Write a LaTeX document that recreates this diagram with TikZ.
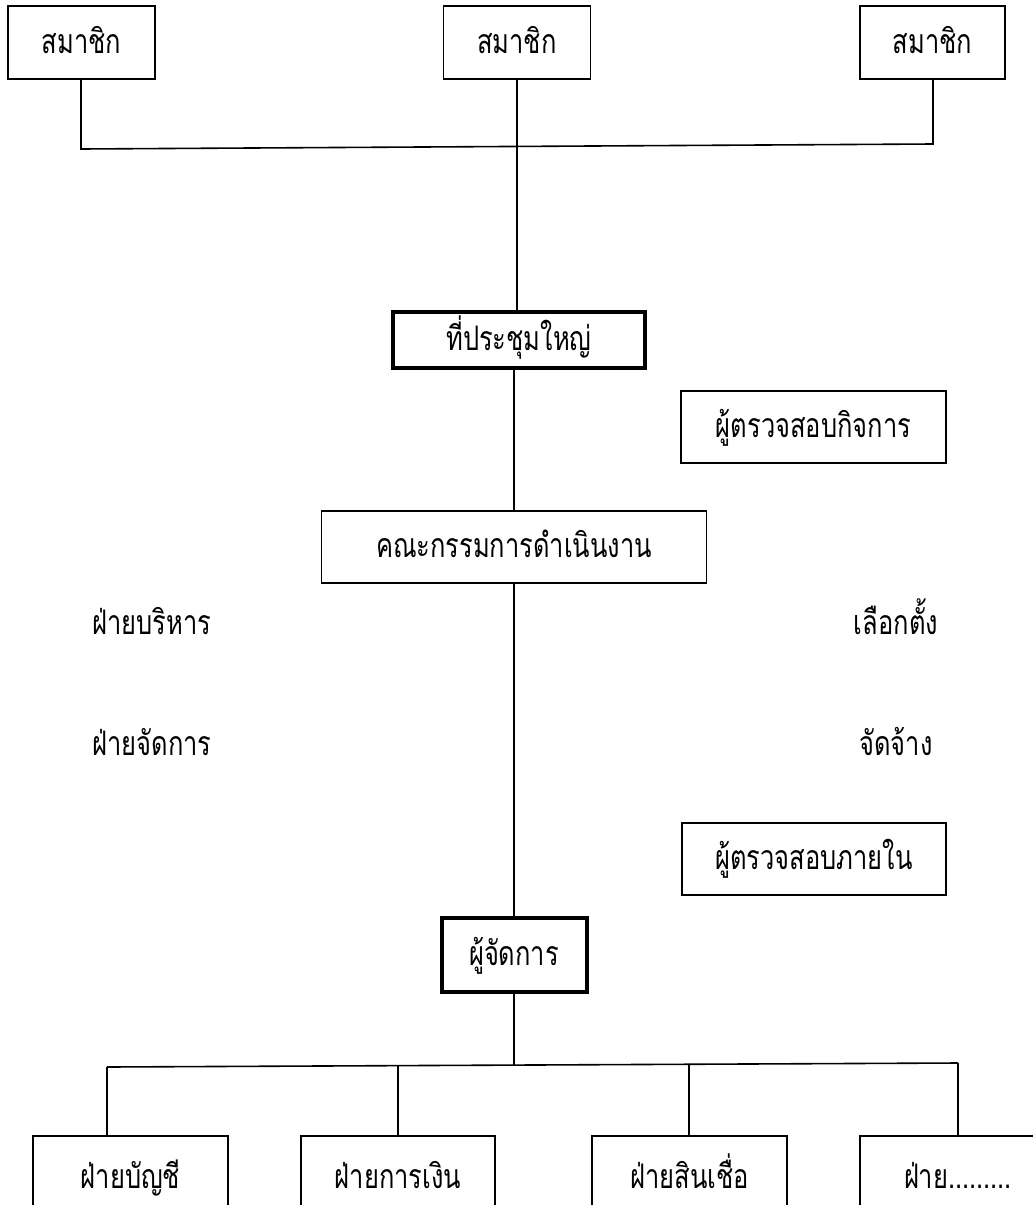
\documentclass[tikz,border=0pt]{standalone}
\usepackage{graphicx}
\usepackage{fontspec}
\newfontfamily\thaifont[Script=Thai]{Loma}
\newcommand{\thx}[1]{\scalebox{0.98}[1.3]{#1}}
\begin{document}
\begin{tikzpicture}[x=1pt,y=-1pt,
  txt/.style={font=\thaifont\fontsize{26}{30}\selectfont, inner sep=0pt, text height=23pt, text depth=2pt},
  box/.style={txt, draw, line width=1.6pt, rectangle},
  thickbox/.style={box, line width=4pt},
  conn/.style={line width=1.6pt}]
\useasboundingbox (0,0) rectangle (1033,1205);
\clip (0,0) rectangle (1033,1205);
% top members
\node[box, minimum width=147, minimum height=73] (m1) at (81.5,42.5) {\thx{สมาชิก}};
\node[box, minimum width=147, minimum height=73] (m2) at (517,42.5) {\thx{สมาชิก}};
\node[box, minimum width=145, minimum height=73] (m3) at (932.5,42.5) {\thx{สมาชิก}};
\node[thickbox, minimum width=252, minimum height=56] (ga) at (519,339.5) {\thx{ที่ประชุมใหญ่}};
\node[box, minimum width=265, minimum height=72] (au1) at (813.5,427) {\thx{ผู้ตรวจสอบกิจการ}};
\node[box, minimum width=385, minimum height=72] (com) at (514,547) {\thx{คณะกรรมการดำเนินงาน}};
\node[txt] (adm) at (152,624) {\thx{ฝ่ายบริหาร}};
\node[txt] (elect) at (896,624) {\thx{เลือกตั้ง}};
\node[txt] (mgt) at (152,745) {\thx{ฝ่ายจัดการ}};
\node[txt] (hire) at (896,745) {\thx{จัดจ้าง}};
\node[box, minimum width=264, minimum height=72] (au2) at (814,859) {\thx{ผู้ตรวจสอบภายใน}};
\node[thickbox, minimum width=145, minimum height=74] (mgr) at (514,955) {\thx{ผู้จัดการ}};
% departments
\node[box, anchor=north, minimum width=195, minimum height=84] (d1) at (130.5,1135) {\thx{ฝ่ายบัญชี}};
\node[box, anchor=north, minimum width=194, minimum height=84] (d2) at (398,1135) {\thx{ฝ่ายการเงิน}};
\node[box, anchor=north, minimum width=195, minimum height=84] (d3) at (689.5,1135) {\thx{ฝ่ายสินเชื่อ}};
\node[box, anchor=north, minimum width=196, minimum height=84] (d4) at (958,1135) {\thx{ฝ่าย.........}};
% top bus
\coordinate (tl) at (81,149);
\coordinate (tr) at (933,144);
\draw[conn] (m1.south -| tl) -- (tl) -- (tr) -- (m3.south -| tr);
\draw[conn] (m2.south) -- (m2.south |- ga.north);
\draw[conn] (com.north |- ga.south) -- (com.north);
\draw[conn] (com.south) -- (mgr.north);
% bottom bus
\coordinate (bm) at (514,1065);
\coordinate (b1) at (107,1067);
\coordinate (b2) at (398,1066);
\coordinate (b3) at (689,1064);
\coordinate (b4) at (958,1063);
\draw[conn] (mgr.south) -- (bm);
\draw[conn] (b1) -- (b4);
\draw[conn] (b1) -- (b1 |- d1.north);
\draw[conn] (b2) -- (d2.north);
\draw[conn] (b3) -- (b3 |- d3.north);
\draw[conn] (b4) -- (d4.north);
\end{tikzpicture}
\end{document}
